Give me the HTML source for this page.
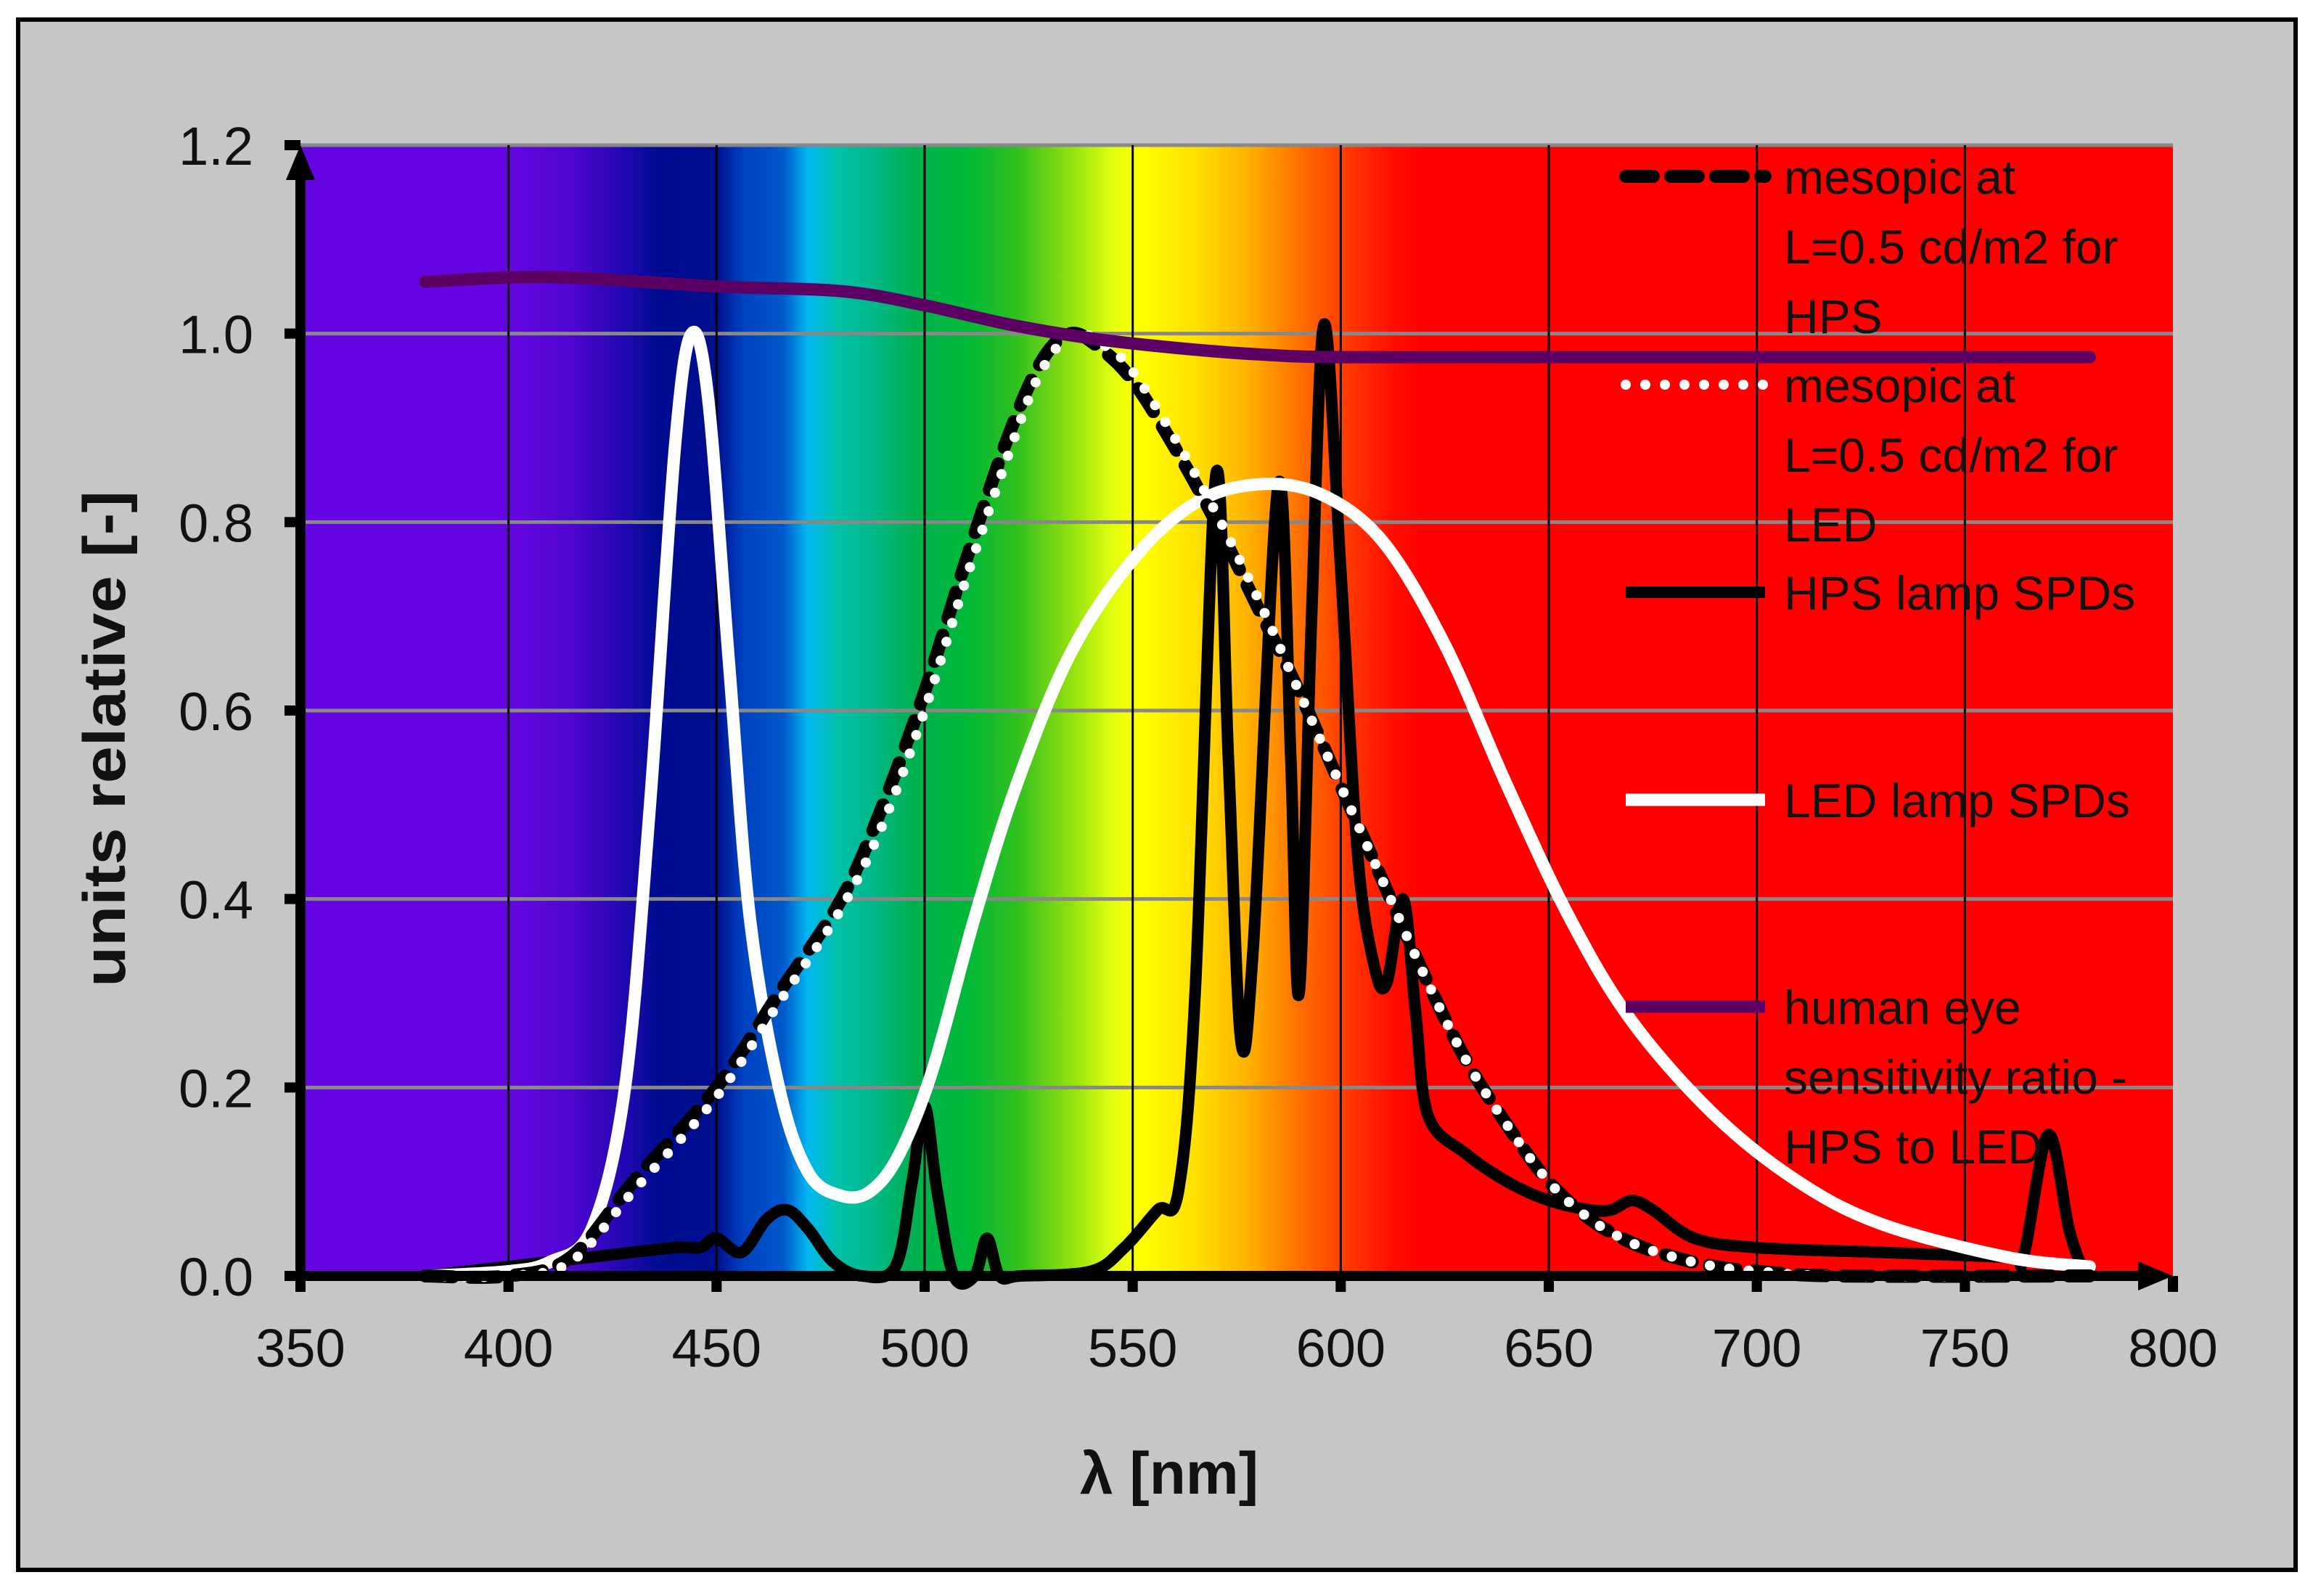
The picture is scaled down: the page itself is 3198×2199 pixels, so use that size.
<!DOCTYPE html>
<html><head><meta charset="utf-8"><style>
html,body{margin:0;padding:0;background:#fff;}
svg{display:block;}
</style></head><body>
<svg id="chart" width="3198" height="2199" viewBox="0 0 3198 2199" xmlns="http://www.w3.org/2000/svg">
<defs>
<linearGradient id="spec" gradientUnits="userSpaceOnUse" x1="414" y1="0" x2="2994" y2="0">
</linearGradient>
</defs>
<rect x="25" y="27" width="3138" height="2136" fill="#c6c6c6" stroke="#000" stroke-width="6"/>
<rect x="414" y="200" width="2580" height="1558" fill="url(#spec)"/>
<g id="grid"></g>
<g id="series"></g>
<g id="axes"></g>
<g id="legend"></g>
<text x="1611" y="2058" text-anchor="middle" font-family="Liberation Sans, sans-serif" font-weight="bold" font-size="82" fill="#111">λ [nm]</text>
<text transform="translate(172,1018) rotate(-90)" text-anchor="middle" font-family="Liberation Sans, sans-serif" font-weight="bold" font-size="82" textLength="684" lengthAdjust="spacingAndGlyphs" fill="#111">units relative [-]</text>
</svg>
<script>
const xTicks=[350,400,450,500,550,600,650,700,750,800];
const yTicks=[0.0,0.2,0.4,0.6,0.8,1.0,1.2];
const yTickLabels=["0.0","0.2","0.4","0.6","0.8","1.0","1.2"];
const eyeWl=[380,410,450,480,500,520,540,560,580,600,650,700,780];
const eyeVal=[1.055,1.06,1.05,1.045,1.03,1.01,0.995,0.985,0.978,0.975,0.975,0.975,0.975];
const mesHpsWl=[380,400,415,430,450,465,480,490,500,510,520,528,535,542,550,560,570,580,590,600,610,620,630,640,650,660,670,680,690,700,720,780];
const mesHpsVal=[0,0,0.02,0.1,0.2,0.3,0.4,0.5,0.62,0.76,0.89,0.97,1.0,0.985,0.95,0.88,0.8,0.71,0.62,0.52,0.42,0.32,0.23,0.16,0.1,0.06,0.035,0.02,0.01,0.005,0,0];
const mesLedWl=[380,400,415,430,450,465,480,490,500,510,520,528,536,544,550,560,570,580,590,600,610,620,630,640,650,660,670,680,690,700,720,780];
const mesLedVal=[0,0,0.015,0.09,0.19,0.29,0.39,0.48,0.6,0.74,0.87,0.96,1.0,0.985,0.96,0.89,0.81,0.72,0.62,0.52,0.42,0.32,0.23,0.16,0.1,0.06,0.035,0.02,0.01,0.005,0,0];
const ledWl=[380,400,410,420,428,434,440,444,448,453,458,465,472,480,487,494,502,512,522,535,550,565,580,595,610,625,640,655,670,690,710,730,760,780];
const ledVal=[0,0.005,0.015,0.05,0.2,0.5,0.88,1.0,0.93,0.65,0.38,0.2,0.11,0.085,0.09,0.13,0.22,0.38,0.52,0.66,0.76,0.82,0.84,0.83,0.78,0.67,0.52,0.38,0.27,0.17,0.1,0.055,0.02,0.01];
const hpsWl=[380,400,420,440,446,450,456,462,467,472,478,485,493,497,500,503,507,512,515,518,523,540,548,556,561,565,570,573,576,579,585,588,590,593,596,600,604,608,611,615,618,621,630,640,650,660,665,670,675,685,700,730,760,764,770,775,778];
const hpsVal=[0,0.01,0.02,0.03,0.03,0.04,0.025,0.06,0.07,0.05,0.015,0.0,0.01,0.1,0.18,0.09,0.0,0.0,0.04,0.0,0.0,0.005,0.03,0.07,0.09,0.3,0.85,0.55,0.25,0.35,0.84,0.55,0.3,0.7,1.01,0.75,0.45,0.33,0.31,0.4,0.28,0.17,0.13,0.1,0.08,0.07,0.07,0.08,0.07,0.04,0.03,0.025,0.02,0.02,0.15,0.05,0.01];
const legendLabels=[["mesopic at","L=0.5 cd/m2 for","HPS"],["mesopic at","L=0.5 cd/m2 for","LED"],["HPS lamp SPDs"],["LED lamp SPDs"],["human eye","sensitivity ratio -","HPS to LED"]];
const specStops=[[350,"#6506e2"],[400,"#6506e2"],[415,"#5006d0"],[428,"#2008b0"],[436,"#000c90"],[450,"#000e8c"],[456,"#0040c0"],[466,"#0058cc"],[472,"#00b8f0"],[479,"#00c0a8"],[488,"#00b888"],[497,"#00b050"],[510,"#00b838"],[522,"#30c020"],[535,"#90e010"],[545,"#e0ff10"],[552,"#ffff00"],[565,"#ffe000"],[578,"#ffb000"],[590,"#ff7000"],[600,"#ff4000"],[612,"#ff1000"],[620,"#ff0000"],[800,"#ff0000"]];

const NS="http://www.w3.org/2000/svg";
const X0=414,X1=2994,Y0=1758,Y1=200;
const xs=v=>X0+(v-350)/(800-350)*(X1-X0);
const ys=v=>Y0-(v/1.2)*(Y0-Y1);
function mk(tag,attrs,parent){const e=document.createElementNS(NS,tag);for(const k in attrs)e.setAttribute(k,attrs[k]);parent.appendChild(e);return e;}
const grad=document.getElementById('spec');
specStops.forEach(s=>{mk('stop',{offset:((s[0]-350)/450).toFixed(4),'stop-color':s[1]},grad);});
const grid=document.getElementById('grid');
yTicks.slice(1).forEach(v=>{const l=mk('line',{x1:X0,x2:X1,y1:ys(v),y2:ys(v),stroke:'#888',"stroke-width":5},grid);

});
xTicks.slice(1,-1).forEach(v=>{const l=mk('line',{x1:xs(v),x2:xs(v),y1:Y1,y2:Y0,stroke:'#000',"stroke-width":3},grid);

});
function pathD(wl,val){const p=wl.map((w,i)=>[xs(w),ys(val[i])]);let d='M'+p[0][0].toFixed(1)+','+p[0][1].toFixed(1);
for(let i=0;i<p.length-1;i++){const a=p[Math.max(0,i-1)],b=p[i],c=p[i+1],e=p[Math.min(p.length-1,i+2)];
const c1=[b[0]+(c[0]-a[0])/6,b[1]+(c[1]-a[1])/6],c2=[c[0]-(e[0]-b[0])/6,c[1]-(e[1]-b[1])/6];
d+=' C'+c1.map(n=>n.toFixed(1)).join(',')+' '+c2.map(n=>n.toFixed(1)).join(',')+' '+c[0].toFixed(1)+','+c[1].toFixed(1);}return d;}
const ser=document.getElementById('series');
const hps=mk('path',{d:pathD(hpsWl,hpsVal),fill:'none',stroke:'#000','stroke-width':16,'stroke-linejoin':'round','stroke-linecap':'round'},ser);


const led=mk('path',{d:pathD(ledWl,ledVal),fill:'none',stroke:'#fff','stroke-width':17,'stroke-linejoin':'round','stroke-linecap':'round'},ser);


const mh=mk('path',{d:pathD(mesHpsWl,mesHpsVal),fill:'none',stroke:'#000','stroke-width':18,'stroke-dasharray':'38 24','stroke-linecap':'round'},ser);


const ml=mk('path',{d:pathD(mesLedWl,mesLedVal),fill:'none',stroke:'#fff','stroke-width':14,'stroke-dasharray':'0 27','stroke-linecap':'round'},ser);


const eye=mk('path',{d:pathD(eyeWl,eyeVal),fill:'none',stroke:'#5c0064','stroke-width':17,'stroke-linecap':'round'},ser);


const ax=document.getElementById('axes');
const yl=mk('line',{x1:X0,x2:X0,y1:Y0+10,y2:Y1+40,stroke:'#000','stroke-width':14},ax);


const ya=mk('polygon',{points:`${X0-20},${Y1+48} ${X0},${Y1} ${X0+20},${Y1+48}`,fill:'#000'},ax);


const xl=mk('line',{x1:X0-7,x2:X1-40,y1:Y0,y2:Y0,stroke:'#000','stroke-width':14},ax);


const xa=mk('polygon',{points:`${X1-48},${Y0-20} ${X1},${Y0} ${X1-48},${Y0+20}`,fill:'#000'},ax);


xTicks.forEach(v=>{const t=mk('line',{x1:xs(v),x2:xs(v),y1:Y0,y2:Y0+22,stroke:'#000','stroke-width':14},ax);


const tx=mk('text',{x:xs(v),y:1883,'text-anchor':'middle','font-family':'Liberation Sans, sans-serif','font-size':74,fill:'#111'},ax);
tx.textContent=String(v);

});
yTicks.forEach((v,i)=>{const t=mk('line',{x1:X0-22,x2:X0,y1:ys(v),y2:ys(v),stroke:'#000','stroke-width':14},ax);


const tx=mk('text',{x:349,y:ys(v)+27,'text-anchor':'end','font-family':'Liberation Sans, sans-serif','font-size':74,fill:'#111'},ax);
tx.textContent=yTickLabels[i];

});
const lg=document.getElementById('legend');
const legY=[243,530,816,1102,1387];
const styles=[{stroke:'#000','stroke-width':18,'stroke-dasharray':'38 24','stroke-linecap':'round'},{stroke:'#fff','stroke-width':14,'stroke-dasharray':'0 27','stroke-linecap':'round'},{stroke:'#000','stroke-width':16},{stroke:'#fff','stroke-width':17},{stroke:'#5c0064','stroke-width':17}];
legendLabels.forEach((lines,i)=>{const g=mk('g',{},lg);


const s=Object.assign({x1:2240,x2:2432,y1:legY[i],y2:legY[i],fill:'none'},styles[i]);
const l=mk('line',s,g);


lines.forEach((t,j)=>{const tx=mk('text',{x:2458,y:legY[i]+24+j*96,'font-family':'Liberation Sans Narrow, Liberation Sans, sans-serif','font-size':66,fill:'#111'},g);
tx.textContent=t;

});});
</script>
</body></html>
